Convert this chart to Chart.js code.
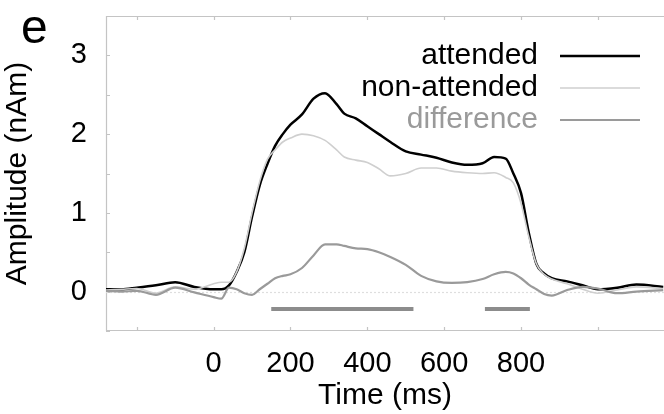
<!DOCTYPE html>
<html>
<head>
<meta charset="utf-8">
<script src="https://cdn.jsdelivr.net/npm/chart.js@4/dist/chart.umd.min.js"></script>
<style>
  html, body { margin: 0; padding: 0; background: #fff; }
  #wrap { width: 664px; height: 414px; position: relative; }
</style>
</head>
<body>
<div id="wrap"><canvas id="chart"></canvas></div>
<script>
// Data (time in ms, amplitude in nAm).
const times = [-280, -240, -200, -150, -100, -50, 0, 20, 40, 60, 80, 100, 120, 140, 160, 180, 200,
  230, 260, 290, 320, 340, 370, 400, 430, 460, 500, 540, 580, 620, 660, 700, 730, 760, 780, 800,
  820, 840, 860, 880, 920, 960, 1000, 1050, 1100, 1170];

const attended = [0.03, 0.03, 0.05, 0.08, 0.12, 0.06, 0.03, 0.03, 0.08, 0.25, 0.5, 0.95, 1.35, 1.62,
  1.85, 2.0, 2.12, 2.25, 2.45, 2.52, 2.38, 2.26, 2.2, 2.1, 2.0, 1.9, 1.78, 1.74, 1.7, 1.64, 1.61,
  1.63, 1.71, 1.69, 1.5, 1.25, 0.75, 0.35, 0.23, 0.17, 0.13, 0.08, 0.03, 0.05, 0.09, 0.06];

const nonAttended = [0.02, 0.03, 0.04, -0.02, 0.06, 0.03, 0.1, 0.12, 0.12, 0.25, 0.55, 1.0, 1.4, 1.68,
  1.8, 1.9, 1.95, 2.0, 1.98, 1.92, 1.8, 1.71, 1.67, 1.64, 1.56, 1.47, 1.5, 1.57, 1.57, 1.53, 1.51,
  1.5, 1.51, 1.45, 1.38, 1.12, 0.7, 0.35, 0.22, 0.16, 0.1, 0.03, -0.02, 0.02, 0.06, 0.04];

const difference = [0.01, 0.0, 0.01, -0.04, 0.05, -0.01, -0.07, -0.09, 0.05, 0.03, -0.02, -0.04, 0.03,
  0.1, 0.17, 0.2, 0.22, 0.3, 0.46, 0.6, 0.6, 0.58, 0.55, 0.54, 0.5, 0.44, 0.34, 0.2, 0.13, 0.11, 0.12,
  0.16, 0.22, 0.25, 0.23, 0.17, 0.09, 0.03, -0.03, -0.05, 0.02, 0.06, 0.04, -0.02, 0.0, 0.02];

// Significant intervals (start, end in ms), drawn below zero.
const sigStarts = [150, 706];
const sigEnds = [520, 823];
const sigLevel = -0.22;

const xTickLabels = [0, 200, 400, 600, 800];
const yTickLabels = [0, 1, 2, 3];

const legendNames = ['attended', 'non-attended', 'difference'];

// Helpers.
const toPoints = (ys) => times.map((t, i) => ({x: t, y: ys[i]}));

const sigPoints = [];
sigStarts.forEach((s, i) => {
  sigPoints.push({x: s, y: sigLevel}, {x: sigEnds[i], y: sigLevel});
  sigPoints.push({x: (sigEnds[i] + (sigStarts[i + 1] || sigEnds[i])) / 2, y: null});
});

const colors = ['#000000', '#cfcfcf', '#9a9a9a'];
const widths = [2.5, 1.6, 2.2];
const textColors = ['#000000', '#000000', '#9a9a9a'];

// Frame, inward tick marks, custom legend and panel letter.
const decorations = {
  id: 'decorations',
  beforeDatasetsDraw(chart) {
    const {ctx, chartArea: a, scales: {x, y}} = chart;
    ctx.save();
    ctx.strokeStyle = '#c4c4c4';
    ctx.lineWidth = 1.2;
    ctx.beginPath();
    ctx.moveTo(a.right + 2, a.top + 0.5);
    ctx.lineTo(a.left + 0.5, a.top + 0.5);
    ctx.lineTo(a.left + 0.5, a.bottom - 0.5);
    ctx.lineTo(a.right + 2, a.bottom - 0.5);
    ctx.stroke();

    ctx.beginPath();
    for (let t = -200; t <= 1000; t += 200) {
      const px = Math.round(x.getPixelForValue(t)) + 0.5;
      ctx.moveTo(px, a.top); ctx.lineTo(px, a.top + 4);
      ctx.moveTo(px, a.bottom); ctx.lineTo(px, a.bottom - 4);
    }
    for (let v = -0.5; v <= 3.5; v += 0.5) {
      const py = Math.round(y.getPixelForValue(v)) + 0.5;
      ctx.moveTo(a.left, py); ctx.lineTo(a.left + 4, py);
    }
    ctx.stroke();

    // faint zero line
    ctx.strokeStyle = '#dedede';
    ctx.setLineDash([2, 2]);
    ctx.beginPath();
    const zy = Math.round(y.getPixelForValue(0)) + 0.5;
    ctx.moveTo(a.left, zy); ctx.lineTo(a.right, zy);
    ctx.stroke();
    ctx.restore();
  },
  afterDraw(chart) {
    const {ctx} = chart;
    ctx.save();
    ctx.font = '30px "Liberation Sans", Arial, sans-serif';
    ctx.textAlign = 'right';
    ctx.textBaseline = 'middle';
    legendNames.forEach((name, i) => {
      const ly = 56 + i * 32;
      ctx.fillStyle = textColors[i];
      ctx.fillText(name, 538, ly);
      ctx.strokeStyle = colors[i];
      ctx.lineWidth = widths[i];
      ctx.beginPath();
      ctx.moveTo(560, ly);
      ctx.lineTo(640, ly);
      ctx.stroke();
    });
    ctx.fillStyle = '#000';
    ctx.textAlign = 'left';
    ctx.textBaseline = 'alphabetic';
    ctx.font = '48px "Liberation Sans", Arial, sans-serif';
    ctx.fillText('e', 21, 43);
    ctx.restore();
  }
};

const lineSet = (label, ys, i) => ({
  label: label,
  data: toPoints(ys),
  borderColor: colors[i],
  borderWidth: widths[i],
  pointRadius: 0,
  tension: 0.4,
  cubicInterpolationMode: 'monotone',
  fill: false
});

const config = {
  type: 'line',
  data: {
    datasets: [
      {
        label: 'significant',
        data: sigPoints,
        borderColor: '#8c8c8c',
        borderWidth: 4,
        pointRadius: 0,
        spanGaps: false,
        borderCapStyle: 'butt'
      },
      lineSet('difference', difference, 2),
      lineSet('non-attended', nonAttended, 1),
      lineSet('attended', attended, 0)
    ]
  },
  options: {
    responsive: true,
    maintainAspectRatio: false,
    animation: false,
    layout: {padding: {top: 16, right: 0, left: 0, bottom: 0}},
    plugins: {legend: {display: false}, tooltip: {enabled: false}},
    scales: {
      x: {
        type: 'linear',
        min: -280,
        max: 1172,
        border: {display: false},
        grid: {display: false, drawTicks: false},
        afterFit: (scale) => {
          scale.height = 83;
          scale.paddingLeft = 0;
          scale.paddingRight = 0;
        },
        ticks: {
          stepSize: 200,
          includeBounds: false,
          autoSkip: false,
          maxRotation: 0,
          padding: 16,
          color: '#000',
          font: {family: '"Liberation Sans", Arial, sans-serif', size: 29},
          callback: (v) => xTickLabels.includes(v) ? String(v) : ''
        },
        title: {
          display: true,
          text: 'Time (ms)',
          color: '#000',
          padding: {top: -4, bottom: 0},
          font: {family: '"Liberation Sans", Arial, sans-serif', size: 30}
        }
      },
      y: {
        min: -0.5,
        max: 3.5,
        border: {display: false},
        grid: {display: false, drawTicks: false},
        afterFit: (scale) => {
          scale.width = 106;
          scale.paddingTop = 0;
          scale.paddingBottom = 0;
        },
        ticks: {
          stepSize: 0.5,
          autoSkip: false,
          padding: 19,
          color: '#000',
          font: {family: '"Liberation Sans", Arial, sans-serif', size: 29},
          callback: (v) => yTickLabels.includes(v) ? String(v) : ''
        },
        title: {
          display: true,
          text: 'Amplitude (nAm)',
          color: '#000',
          padding: {top: 0, bottom: 0},
          font: {family: '"Liberation Sans", Arial, sans-serif', size: 30}
        }
      }
    }
  },
  plugins: [decorations]
};

const chart = new Chart(document.getElementById('chart'), config);
</script>
</body>
</html>
